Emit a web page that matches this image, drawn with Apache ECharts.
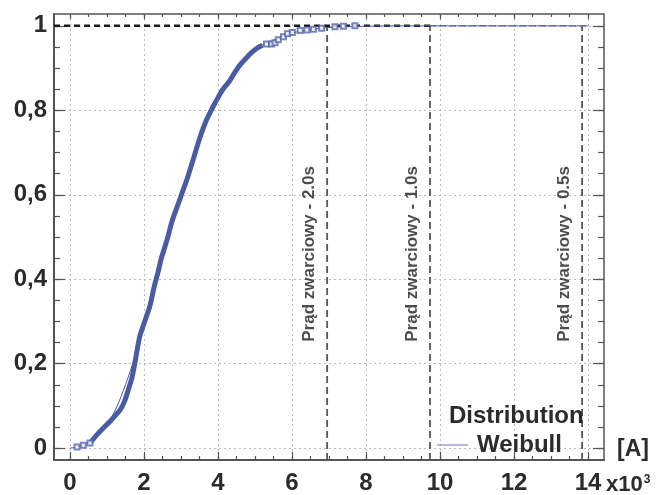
<!DOCTYPE html>
<html>
<head>
<meta charset="utf-8">
<script src="https://cdn.jsdelivr.net/npm/echarts@6/dist/echarts.min.js"></script>
<style>
  html, body { margin: 0; background: #fff; }
  #main { width: 657px; height: 495px; }
</style>
</head>
<body>
<div id="main"></div>
<script>
// current in kA (x10^3 A), cumulative probability
var xMajor = [0, 2, 4, 6, 8, 10, 12, 14];
var yMajor = [0, 0.2, 0.4, 0.6, 0.8, 1];
var xMinor = [];
for (var i = 0; i <= 28; i++) xMinor.push(i * 0.5);
var yMinor = [];
for (var j = 0; j <= 20; j++) yMinor.push(+(j * 0.05).toFixed(2));

// empirical distribution: first sparse points, dense band, sparse tail
var distStart = [[0.19, 0.003], [0.36, 0.007], [0.54, 0.012]];
var distBand = [
  [0.54, 0.012], [0.72, 0.031], [0.85, 0.043], [0.95, 0.052], [1.08, 0.063],
  [1.2, 0.075], [1.35, 0.09], [1.45, 0.106], [1.53, 0.125], [1.6, 0.145],
  [1.67, 0.165], [1.75, 0.2], [1.82, 0.235], [1.89, 0.266], [2.0, 0.295],
  [2.16, 0.337], [2.27, 0.38], [2.38, 0.417], [2.47, 0.45], [2.57, 0.478],
  [2.66, 0.505], [2.75, 0.535], [2.86, 0.563], [2.97, 0.589], [3.06, 0.612],
  [3.16, 0.636], [3.3, 0.675], [3.51, 0.735], [3.68, 0.775], [3.87, 0.809],
  [4.0, 0.83], [4.12, 0.848], [4.3, 0.868], [4.45, 0.889], [4.59, 0.907],
  [4.82, 0.929], [4.95, 0.94], [5.09, 0.949], [5.2, 0.954]
];
var distTail = [
  [5.31, 0.957], [5.45, 0.957], [5.54, 0.96], [5.63, 0.967], [5.77, 0.974],
  [5.88, 0.981], [6.01, 0.984], [6.22, 0.989], [6.4, 0.99], [6.58, 0.992],
  [6.8, 0.994], [7.16, 0.998], [7.39, 0.999], [7.7, 1.0]
];

// fitted Weibull cdf
var weibullFit = [
  [0, 0], [0.25, 0.004], [0.5, 0.013], [0.75, 0.03], [1.0, 0.055],
  [1.25, 0.095], [1.5, 0.15], [1.75, 0.215], [2.0, 0.29], [2.25, 0.37],
  [2.5, 0.455], [2.75, 0.535], [3.0, 0.6], [3.25, 0.665], [3.5, 0.73],
  [3.75, 0.785], [4.0, 0.83], [4.25, 0.868], [4.5, 0.898], [4.75, 0.925],
  [5.0, 0.944], [5.25, 0.957], [5.5, 0.966], [5.75, 0.975], [6.0, 0.983],
  [6.5, 0.991], [7.0, 0.996], [8, 0.999], [9, 1], [10, 1], [12, 1], [14, 1]
];

// short-circuit current limits
var limitX = [6.95, 9.73, 13.84];
var limitLabels = ['Prąd zwarciowy - 2.0s', 'Prąd zwarciowy - 1.0s', 'Prąd zwarciowy - 0.5s'];
var limitLabelY = 0.46;

var xMin = -0.432, xMax = 14.432;
var yMin = -0.028, yMax = 1.028;

var font = "'Liberation Sans', Arial, sans-serif";
var ink = '#2b2b2b';
var blue = '#4a5ba3';

var myChart = echarts.init(document.getElementById('main'));

function xAx(pos, ticks, len, opts) {
  return Object.assign({
    type: 'value', position: pos, min: xMin, max: xMax,
    axisLine: { show: false, onZero: false },
    axisTick: { show: true, inside: true, length: len, customValues: ticks,
      lineStyle: { color: '#555', width: 1.2 } },
    axisLabel: { show: false },
    splitLine: { show: false }
  }, opts || {});
}
function yAx(pos, ticks, len, opts) {
  return Object.assign({
    type: 'value', position: pos, min: yMin, max: yMax,
    axisLine: { show: false, onZero: false },
    axisTick: { show: true, inside: true, length: len, customValues: ticks,
      lineStyle: { color: '#555', width: 1.2 } },
    axisLabel: { show: false },
    splitLine: { show: false }
  }, opts || {});
}

var series = [
  {
    name: 'Weibull', type: 'line', data: weibullFit, smooth: 0.3,
    symbol: 'none', lineStyle: { color: blue, width: 1 }, z: 4
  },
  {
    name: 'Distribution', type: 'line', data: distBand, smooth: 0.3,
    symbol: 'none', lineStyle: { color: blue, width: 5 }, z: 5
  },
  {
    name: 'Distribution', type: 'scatter', data: distStart.concat(distTail),
    symbol: 'emptyRect', symbolSize: 5,
    itemStyle: { color: '#5566ab', borderWidth: 1 }, z: 5
  },
  {
    type: 'line', data: [[xMin, 1], [9.73, 1]], symbol: 'none',
    lineStyle: { color: '#1a1a1a', width: 2.5, type: [6, 4] }, z: 3
  },
  {
    type: 'line', data: [[9.73, 1], [13.95, 1]], symbol: 'none',
    lineStyle: { color: '#8f97c2', width: 1.5, type: [6, 4] }, z: 3
  }
];
limitX.forEach(function (x) {
  series.push({
    type: 'line', data: [[x, yMin], [x, 1]], symbol: 'none',
    lineStyle: { color: '#555', width: 1.8, type: [7, 4] }, z: 2
  });
});
series.push({
  type: 'scatter', symbolSize: 1, itemStyle: { color: 'rgba(0,0,0,0)' },
  data: limitX.map(function (x, k) { return [x, limitLabelY, limitLabels[k]]; }),
  label: {
    show: true, position: 'inside', rotate: 90, offset: [0, -18],
    formatter: function (p) { return p.value[2]; },
    fontFamily: font, fontSize: 17, fontWeight: 'bold', color: '#1e1e1e',
    align: 'center', verticalAlign: 'middle'
  },
  z: 6
});

var option = {
  animation: false,
  backgroundColor: '#fff',
  grid: { left: 54, right: 53, top: 14, bottom: 33, show: true,
    borderColor: '#555', borderWidth: 1.5 },
  legend: [
    {
      data: [{ name: 'Distribution', icon: 'none' }], selectedMode: false,
      left: 414, top: 399, itemWidth: 25,
      textStyle: { fontFamily: font, fontSize: 24, fontWeight: 'bold', color: ink }
    },
    {
      data: [{ name: 'Weibull', icon: 'rect' }], selectedMode: false,
      left: 432, top: 428, itemWidth: 31, itemHeight: 1,
      itemStyle: { color: '#6673b3' },
      textStyle: { fontFamily: font, fontSize: 24, fontWeight: 'bold', color: ink,
        padding: [0, 0, 0, 4] }
    }
  ],
  xAxis: [
    xAx('bottom', xMajor, 8, {
      axisLine: { show: true, onZero: false, lineStyle: { color: '#555', width: 2 } },
      axisLabel: { show: true, customValues: xMajor, margin: 11,
        fontFamily: font, fontSize: 24, fontWeight: 'bold', color: ink },
      splitLine: { show: true, lineStyle: { color: '#bbb', type: [2, 3], width: 1 } }
    }),
    xAx('bottom', xMinor, 4),
    xAx('top', xMajor, 5),
    xAx('top', xMinor, 3)
  ],
  yAxis: [
    yAx('left', yMajor, 11, {
      axisLine: { show: true, onZero: false, lineStyle: { color: '#555', width: 2 } },
      axisLabel: { show: true, customValues: yMajor, margin: 7,
        fontFamily: font, fontSize: 24, fontWeight: 'bold', color: ink,
        formatter: function (v) { return String(+v.toFixed(1)).replace('.', ','); } },
      splitLine: { show: true, lineStyle: { color: '#bbb', type: [2, 3], width: 1 } }
    }),
    yAx('left', yMinor, 6),
    yAx('right', yMajor, 11),
    yAx('right', yMinor, 6)
  ],
  graphic: [
    {
      type: 'text', left: 617, top: 438,
      style: { text: '[A]', font: 'bold 23px ' + font, fill: ink }
    },
    {
      type: 'text', left: 606, top: 474,
      style: {
        text: 'x10{s|3}', font: 'bold 22px ' + font, fill: ink,
        rich: { s: { fontSize: 12, fontWeight: 'bold', fontFamily: font,
          verticalAlign: 'top', padding: [0, 0, 10, 1] } }
      }
    }
  ],
  series: series
};

myChart.setOption(option);
</script>
</body>
</html>
